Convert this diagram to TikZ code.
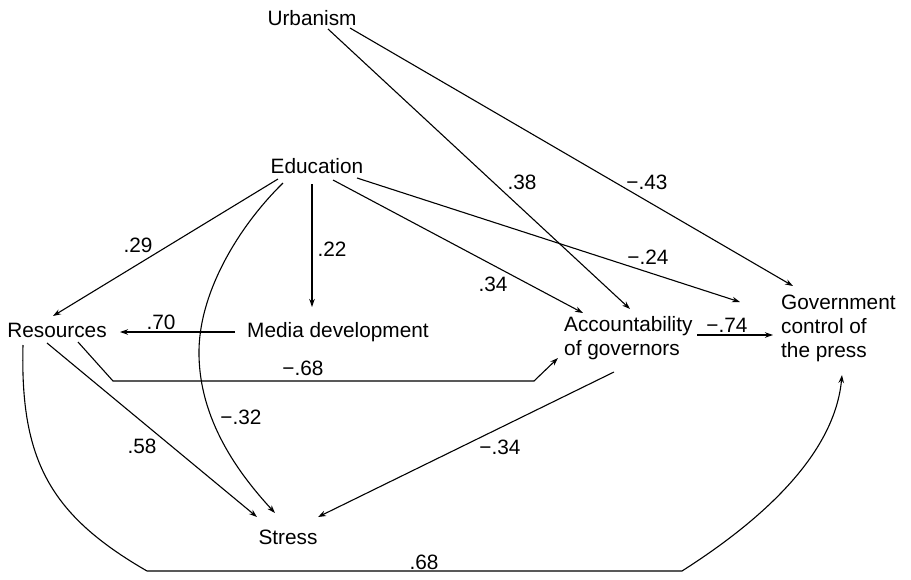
\documentclass[tikz,border=0pt]{standalone}
\usepackage{fontspec}
\setmainfont{Liberation Sans}
\usetikzlibrary{arrows.meta}
\begin{document}
\begin{tikzpicture}[x=1pt,y=-1pt,
  every node/.style={inner sep=0pt, font=\fontsize{20.8}{24}\selectfont},
  var/.style={anchor=base},
  mvar/.style={anchor=north west, align=left},
  lab/.style={anchor=center},
  conn/.style={draw, line width=1.1pt, -{Stealth[length=8pt,width=5.5pt]}},
  plainline/.style={draw, line width=1.1pt}
]
\useasboundingbox (0,0) rectangle (911,579);

% variables
\node[var] (urb) at (312,25) {Urbanism};
\node[var] (edu) at (317,173.5) {Education};
\node[var] (res) at (57,337.5) {Resources};
\node[var] (med) at (338,337.5) {Media development};
\node[var] (str) at (288,544.5) {Stress};
\node[mvar] (acc) at (564,316) {Accountability\\of governors};
\node[mvar] (gov) at (781,295) {Government\\control of\\the press};

% Urbanism paths
\draw[conn] ([shift={(16,4)}]urb.base) -- ([shift={(66,-7)}]acc.north west);
\draw[conn] ([shift={(38,3)}]urb.base) -- ([shift={(12,-9)}]gov.north west);

% Education paths
\draw[conn] ([shift={(-39,5.5)}]edu.base) -- ([shift={(-4,-21.5)}]res.base);
\draw[conn] ([shift={(-34,9.5)}]edu.base) .. controls (240,225) and (200,290) .. (199,350)
  .. controls (198,420) and (240,475) .. ([shift={(-13,-31.5)}]str.base);
\draw[conn] ([shift={(-5,10.5)}]edu.base) -- ([shift={(-26,-30.5)}]med.base);
\draw[conn] ([shift={(16,6.5)}]edu.base) -- ([shift={(19,-3)}]acc.north west);
\draw[conn] ([shift={(40,4.5)}]edu.base) -- ([shift={(-41,7)}]gov.north west);

% Media development -> Resources
\draw[conn] ([shift={(-103,-5.5)}]med.base) -- ([shift={(63,-5.5)}]res.base);

% Resources paths
\draw[conn] ([shift={(21,4.5)}]res.base) -- (113,381) -- (534,381) -- ([shift={(-6,42)}]acc.north west);
\draw[conn] ([shift={(-10,5.5)}]res.base) -- ([shift={(-31,-27.5)}]str.base);
\draw[conn] ([shift={(-34,7.5)}]res.base) .. controls (20,460) and (50,515) .. (147,571)
  -- (682,571) .. controls (770,515) and (835,450) .. ([shift={(61,80)}]gov.north west);

% Accountability paths
\draw[conn] ([shift={(50,56)}]acc.north west) -- ([shift={(30,-27.5)}]str.base);
\draw[conn] ([shift={(133,19)}]acc.north west) -- ([shift={(-8,40)}]gov.north west);

% coefficients
\node[lab] (l38) at (522,182) {.38};
\node[lab] (l43) at (647,182) {−.43};
\node[lab] (l29) at (138,245) {.29};
\node[lab] (l22) at (332,249) {.22};
\node[lab] (l34a) at (493,284) {.34};
\node[lab] (l24) at (648,257) {−.24};
\node[lab] (l70) at (161,322) {.70};
\node[lab] (l68a) at (303,368) {−.68};
\node[lab] (l74) at (727,325) {−.74};
\node[lab] (l32) at (241,417) {−.32};
\node[lab] (l58) at (142,446) {.58};
\node[lab] (l34b) at (500,447) {−.34};
\node[lab] (l68b) at (424,562) {.68};
\end{tikzpicture}
\end{document}
